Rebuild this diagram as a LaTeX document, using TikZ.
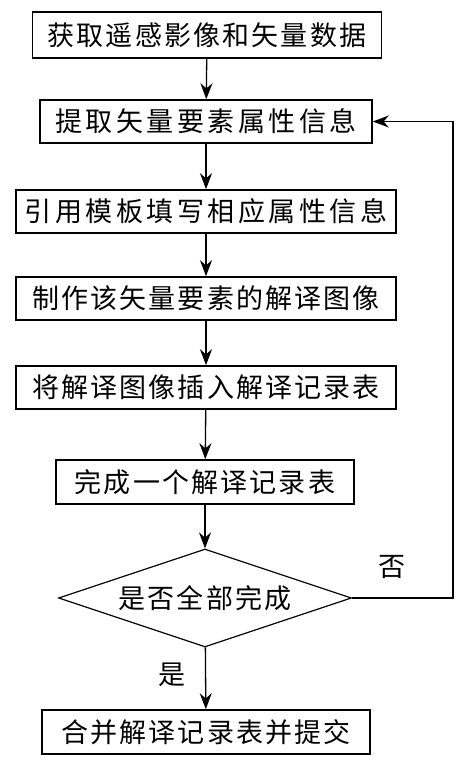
\documentclass[tikz,border=0pt]{standalone}
\usepackage{fontspec}
\usepackage{tikz}
\usetikzlibrary{calc, positioning, shapes.geometric, arrows.meta}
\newfontfamily\cjk{Noto Sans CJK SC}
\newfontfamily\cjkwide[LetterSpace=13]{Noto Sans CJK SC}
\newfontfamily\cjknarrow[LetterSpace=8]{Noto Sans CJK SC}
\tikzset{
  stepbox/.style={draw=black, line width=1.6pt, fill=white, inner sep=0pt,
                  font=\cjknarrow\fontsize{27pt}{30pt}\selectfont},
  widebox/.style={stepbox, font=\cjkwide\fontsize{27pt}{30pt}\selectfont},
  checkbox/.style={draw=black, line width=1.2pt, diamond, aspect=3, inner sep=0pt,
                   font=\cjknarrow\fontsize{27pt}{30pt}\selectfont},
  flow/.style={line width=1.3pt, -{Stealth[length=16pt, width=12pt]}},
  answer/.style={font=\cjk\fontsize{27pt}{30pt}\selectfont, inner sep=0pt}
}

\begin{document}
\begin{tikzpicture}[x=1pt, y=1pt]
      \useasboundingbox[fill=white] (0,0) rectangle (470,-769);

      % steps of the workflow
      \node[stepbox, minimum width=349pt, minimum height=46pt] (getData) at (207,-35) {获取遥感影像和矢量数据};
      \node[widebox, minimum width=332pt, minimum height=43pt] (readAttr) at (206,-121.5) {提取矢量要素属性信息};
      \node[widebox, minimum width=380pt, minimum height=43pt] (fillTpl) at (206,-211.5) {引用模板填写相应属性信息};
      \node[stepbox, minimum width=380pt, minimum height=43pt] (makeImg) at (206,-298.5) {制作该矢量要素的解译图像};
      \node[stepbox, minimum width=380pt, minimum height=43pt] (insertImg) at (206,-387.5) {将解译图像插入解译记录表};
      \node[stepbox, minimum width=298pt, minimum height=44pt] (oneTable) at (205,-482) {完成一个解译记录表};
      \node[checkbox, minimum width=293pt, minimum height=98pt] (allDone) at (205,-598) {是否全部完成};
      \node[stepbox, minimum width=328pt, minimum height=44pt] (submit) at (206,-732) {合并解译记录表并提交};

      % straight flow
      \draw[flow] (getData) -- (readAttr);
      \draw[flow] (readAttr) -- (fillTpl);
      \draw[flow] (fillTpl) -- (makeImg);
      \draw[flow] (makeImg) -- (insertImg);
      \draw[flow] (insertImg) -- (oneTable);
      \draw[flow] (oneTable) -- (allDone);
      \draw[flow] (allDone) -- (submit);

      % loop back when not finished
      \coordinate (loopTurn) at (453,-598);
      \draw[flow] (allDone.east) -- (loopTurn) |- (readAttr.east);

      \node[answer] (noLabel) at (392,-567) {否};
      \node[answer] (yesLabel) at (172,-675) {是};
    \end{tikzpicture}
\end{document}
